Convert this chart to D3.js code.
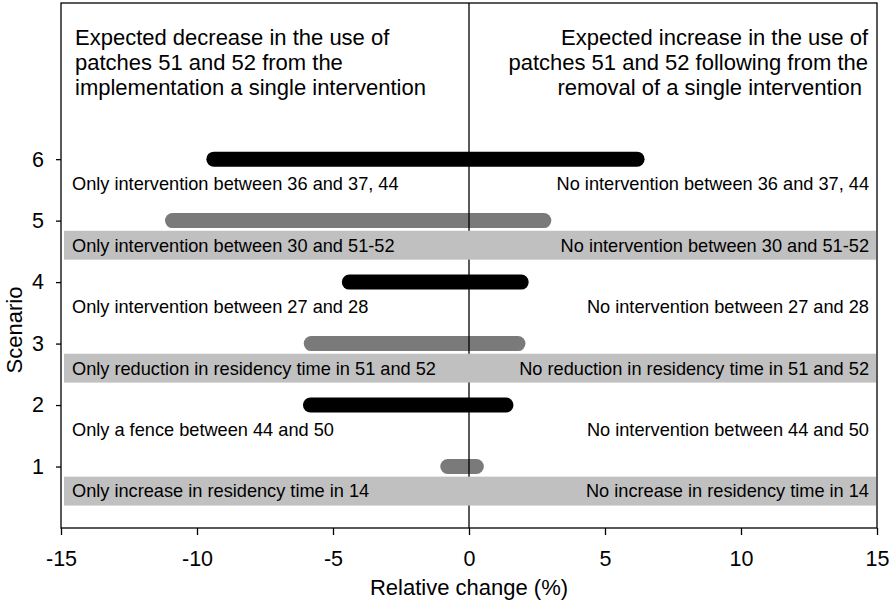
<!DOCTYPE html>
<html><head><meta charset="utf-8">
<script src="https://cdn.jsdelivr.net/npm/d3@7"></script>
<style>body{margin:0;background:#fff}svg{display:block}text{font-family:"Liberation Sans",Arial,sans-serif;fill:#000}</style>
</head><body><svg id="c" width="893" height="600"></svg>
<script>
const scenarios = [6, 5, 4, 3, 2, 1];
const lowValues = [-9.38, -10.9, -4.4, -5.8, -5.83, -0.78];
const highValues = [6.18, 2.75, 1.92, 1.8, 1.36, 0.27];
const barColors = ["#000000", "#7a7a7a", "#000000", "#7a7a7a", "#000000", "#7a7a7a"];
const banded = [false, true, false, true, false, true];
const leftLabels = ["Only intervention between 36 and 37, 44", "Only intervention between 30 and 51-52", "Only intervention between 27 and 28", "Only reduction in residency time in 51 and 52", "Only a fence between 44 and 50", "Only increase in residency time in 14"];
const rightLabels = ["No intervention between 36 and 37, 44", "No intervention between 30 and 51-52", "No intervention between 27 and 28", "No reduction in residency time in 51 and 52", "No intervention between 44 and 50", "No increase in residency time in 14"];
const xTicks = [-15, -10, -5, 0, 5, 10, 15];
const yTicks = [1, 2, 3, 4, 5, 6];
const leftTitle = ["Expected decrease in the use of", "patches 51 and 52 from the", "implementation a single intervention"];
const rightTitle = ["Expected increase in the use of", "patches 51 and 52 following from the", "removal of a single intervention\u00a0"];

const svg = d3.select("#c");
const L = 61, R = 877, T = 3, B = 528;
const x = d3.scaleLinear().domain([-15, 15]).range([L, R]);
const y = d3.scaleLinear().domain([0, 8.54]).range([B, T]);
const labelOffset = 0.4, bandHalf = 0.235;

const rows = scenarios.map((s, i) => ({s, lo: lowValues[i], hi: highValues[i], c: barColors[i], band: banded[i], ll: leftLabels[i], rl: rightLabels[i]}));

// bars
svg.append("g").selectAll("line").data(rows).join("line")
  .attr("x1", d => x(d.lo)).attr("x2", d => x(d.hi))
  .attr("y1", d => y(d.s)).attr("y2", d => y(d.s))
  .attr("stroke", d => d.c).attr("stroke-width", 15).attr("stroke-linecap", "round");

// zero line
svg.append("line").attr("x1", x(0)).attr("x2", x(0)).attr("y1", T).attr("y2", B)
  .attr("stroke", "#000").attr("stroke-width", 1.3);

// bands
svg.append("g").selectAll("rect").data(rows.filter(d => d.band)).join("rect")
  .attr("x", L + 3).attr("width", R - L - 4)
  .attr("y", d => y(d.s - labelOffset + bandHalf))
  .attr("height", d => y(d.s - labelOffset - bandHalf) - y(d.s - labelOffset + bandHalf))
  .attr("fill", "#c0c0c0");

// labels
svg.append("g").selectAll("text").data(rows).join("text")
  .attr("x", L + 11).attr("y", d => y(d.s - labelOffset)).attr("dy", "0.35em")
  .attr("font-size", 18.2).text(d => d.ll);
svg.append("g").selectAll("text").data(rows).join("text")
  .attr("x", R - 8).attr("y", d => y(d.s - labelOffset)).attr("dy", "0.35em")
  .attr("text-anchor", "end").attr("font-size", 18.2).text(d => d.rl);

// titles
svg.append("g").selectAll("text").data(leftTitle).join("text")
  .attr("x", L + 14).attr("y", (d, i) => 37 + i * 25).attr("dy", "0.35em")
  .attr("font-size", 22).text(d => d);
svg.append("g").selectAll("text").data(rightTitle).join("text")
  .attr("x", R - 9).attr("y", (d, i) => 37 + i * 25).attr("dy", "0.35em")
  .attr("text-anchor", "end").attr("font-size", 22).text(d => d);

// frame
svg.append("rect").attr("x", L).attr("y", T).attr("width", R - L).attr("height", B - T)
  .attr("fill", "none").attr("stroke", "#000").attr("stroke-width", 1.3);

// axes
const xa = svg.append("g").attr("transform", `translate(0,${B})`)
  .call(d3.axisBottom(x).tickValues(xTicks).tickSize(7).tickSizeOuter(0).tickPadding(15.5).tickFormat(d3.format("d")));
const ya = svg.append("g").attr("transform", `translate(${L},0)`)
  .call(d3.axisLeft(y).tickValues(yTicks).tickSize(5).tickSizeOuter(0).tickPadding(12).tickFormat(d3.format("d")));
[xa, ya].forEach(a => {
  a.select(".domain").remove();
  a.selectAll(".tick line").attr("stroke", "#000").attr("stroke-width", 1.3);
  a.selectAll(".tick text").attr("font-size", 21.5).attr("font-family", '"Liberation Sans",Arial,sans-serif').attr("fill", "#000");
});
xa.selectAll(".tick text").text(d => d < 0 ? "-" + Math.abs(d) : d);

svg.append("text").attr("x", x(0)).attr("y", 587).attr("dy", "0.35em").attr("text-anchor", "middle")
  .attr("font-size", 22).text("Relative change (%)");
svg.append("text").attr("transform", "translate(14,330) rotate(-90)").attr("dy", "0.35em")
  .attr("text-anchor", "middle").attr("font-size", 22).text("Scenario");
</script></body></html>
